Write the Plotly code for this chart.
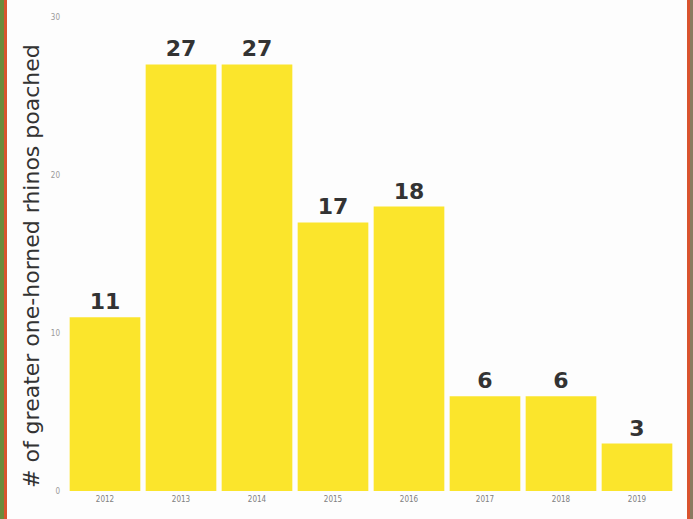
import plotly.graph_objects as go

years = ["2012", "2013", "2014", "2015", "2016", "2017", "2018", "2019"]
poached = [11, 27, 27, 17, 18, 6, 6, 3]
y_ticks = [0, 10, 20, 30]

W, H = 693, 519
ML, MR, MT, MB = 67, 18, 17, 28
PW = W - ML - MR
PH = H - MT - MB

def px(x):
    return (x - ML) / PW

def py(y):
    return (H - MB - y) / PH

fig = go.Figure(go.Bar(
    x=years, y=poached,
    marker=dict(color="#FBE52C", line=dict(width=0)),
    text=[str(v) for v in poached],
    textposition="outside",
    textfont=dict(family="DejaVu Sans", size=22, color="#333333", weight="bold"),
    cliponaxis=False,
))

fig.update_layout(
    width=W, height=H,
    margin=dict(l=ML, r=MR, t=MT, b=MB, pad=0),
    paper_bgcolor="#FDFDFD", plot_bgcolor="#FDFDFD",
    bargap=0.07,
    showlegend=False,
    xaxis=dict(showgrid=False, zeroline=False, showline=False,
               tickfont=dict(family="DejaVu Sans Condensed", size=8, color="#808080"),
               ticks="", ticklabelstandoff=2),
    yaxis=dict(range=[0, 30], tickvals=y_ticks, showgrid=False, zeroline=False,
               showline=False, ticks="",
               tickfont=dict(family="DejaVu Sans Condensed", size=8, color="#999999"),
               ticklabelstandoff=6),
    annotations=[
        dict(text="# of greater one-horned rhinos poached", textangle=-90,
             xref="paper", yref="paper", x=px(31), y=py(266),
             xanchor="center", yanchor="middle", showarrow=False,
             font=dict(family="DejaVu Sans", size=22, color="#333333")),
    ],
    shapes=[
        dict(type="rect", xref="paper", yref="paper", x0=px(0), x1=px(4), y0=-1, y1=2,
             fillcolor="#6B8A3A", line=dict(width=0), layer="above"),
        dict(type="rect", xref="paper", yref="paper", x0=px(4), x1=px(7), y0=-1, y1=2,
             fillcolor="#D9532E", line=dict(width=0), layer="above"),
        dict(type="rect", xref="paper", yref="paper", x0=px(687), x1=px(690), y0=-1, y1=2,
             fillcolor="#D9532E", line=dict(width=0), layer="above"),
        dict(type="rect", xref="paper", yref="paper", x0=px(690), x1=px(693), y0=-1, y1=2,
             fillcolor="#8A7A60", line=dict(width=0), layer="above"),
    ],
)

fig.write_html("out.html", config={"displayModeBar": False},
               post_script="document.body.style.margin='0px';")
